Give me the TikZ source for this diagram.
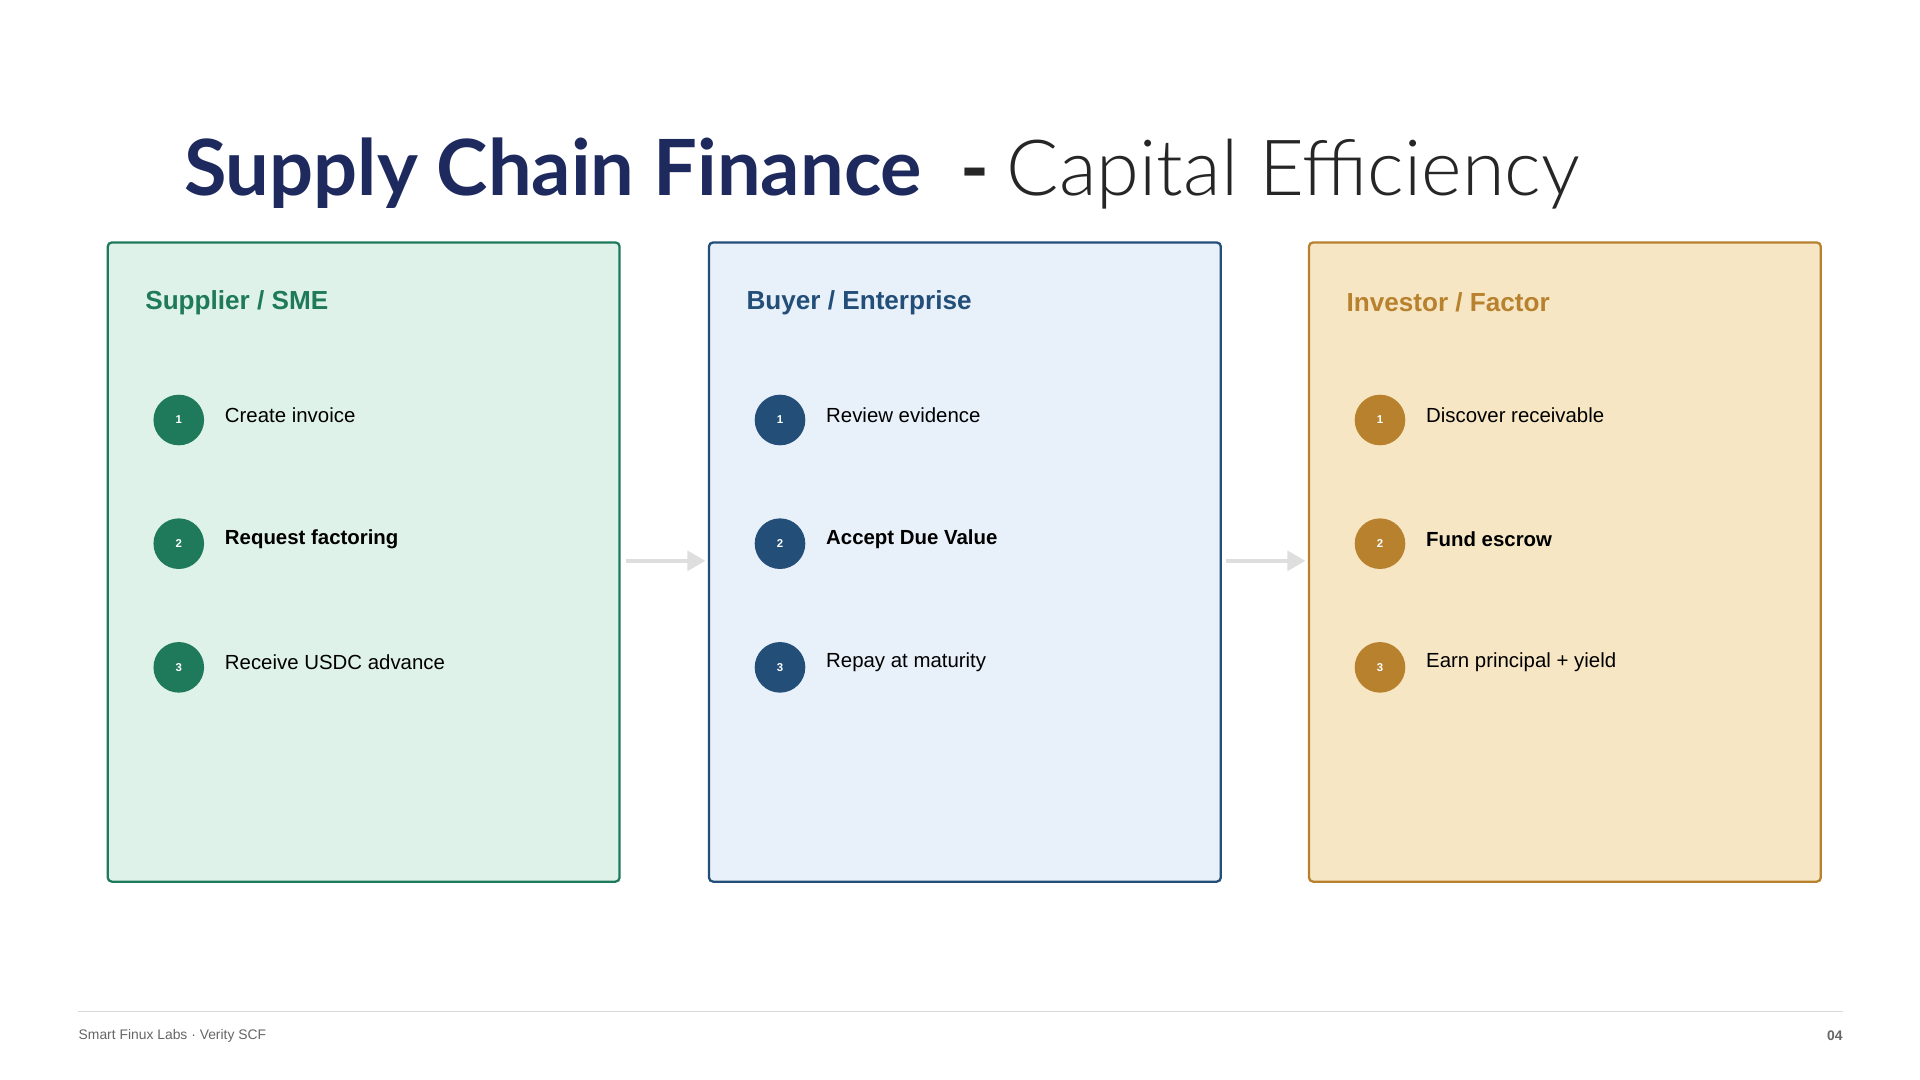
\documentclass[tikz,border=0pt]{standalone}
\usepackage{fontspec}
\setmainfont{Liberation Sans}
\newfontfamily\titlefont{Lato}
\newfontfamily\titlelight{Lato Light}
\usetikzlibrary{arrows.meta}
\definecolor{gA}{HTML}{1E7A5A}\definecolor{gF}{HTML}{DFF2EA}
\definecolor{bA}{HTML}{234E78}\definecolor{bF}{HTML}{E8F0FA}
\definecolor{oA}{HTML}{B8812E}\definecolor{oF}{HTML}{F6E6C4}
\definecolor{navy}{HTML}{1E2A5E}
\begin{document}
\begin{tikzpicture}[x=0.75pt,y=-0.75pt,
 card/.style={draw=#1,line width=1.4pt,rounded corners=2.5pt},
 head/.style={anchor=west,font=\fontsize{16}{18}\selectfont\bfseries,text=#1},
 num/.style={circle,fill=#1,minimum size=31pt,inner sep=0,text=white,font=\fontsize{7}{8}\selectfont\bfseries},
 item/.style={anchor=west,font=\fontsize{12.5}{15}\selectfont},
 flow/.style={draw=black!13,line width=2.4pt,-{Triangle[length=11pt,width=12pt]}}]
\useasboundingbox[fill=white] (0,0) rectangle (1568,882);
\node[anchor=base west,inner sep=0,text=navy,font=\titlefont\fontsize{47.5}{52}\selectfont\bfseries] (t1) at (150,160) {Supply Chain Finance};
\node[anchor=base west,inner sep=0,text=black!85,font=\titlefont\fontsize{47.5}{52}\selectfont\bfseries] (t0) at (784,160) {-};
\node[anchor=base west,inner sep=0,text=black!85,font=\titlelight\fontsize{47.5}{52}\selectfont] (t2) at (822,160) {Capital Efficiency};
\foreach \x/\c/\h/\a/\b/\cc/\n in {88/g/{Supplier / SME}/Create invoice/Request factoring/Receive USDC advance/A,579/b/{Buyer / Enterprise}/Review evidence/Accept Due Value/Repay at maturity/B,1069/o/{Investor / Factor}/Discover receivable/Fund escrow/Earn principal + yield/C}{
 \draw[card=\c A,fill=\c F] (\x,198) rectangle (\x+418,720);
 \node[head=\c A] (h\n) at (\x+26,247) {\h};
 \node[num=\c A] (n\n1) at (\x+58,343) {1};
 \node[num=\c A] (n\n2) at (\x+58,444) {2};
 \node[num=\c A] (n\n3) at (\x+58,545) {3};
 \node[item] (i\n1) at (\x+91,339) {\a};
 \node[item,font=\fontsize{12.5}{15}\selectfont\bfseries] (i\n2) at (\x+91,440) {\b};
 \node[item] (i\n3) at (\x+91,541) {\cc};
}
\coordinate (a1) at (511,458);\coordinate (a2) at (576,458);
\coordinate (b1) at (1001,458);\coordinate (b2) at (1066,458);
\draw[flow] (a1) -- (a2);
\draw[flow] (b1) -- (b2);
\coordinate (f1) at (64,826);\coordinate (f2) at (1505,826);
\draw[black!15,line width=1pt] (f1) -- (f2);
\node[anchor=west,inner sep=0,text=black!60,font=\fontsize{8.5}{10}\selectfont] (fl) at (64,846) {Smart Finux Labs · Verity SCF};
\node[anchor=east,inner sep=0,text=black!60,font=\fontsize{8.5}{10}\selectfont\bfseries] (fr) at (1505,846) {04};
\end{tikzpicture}
\end{document}
